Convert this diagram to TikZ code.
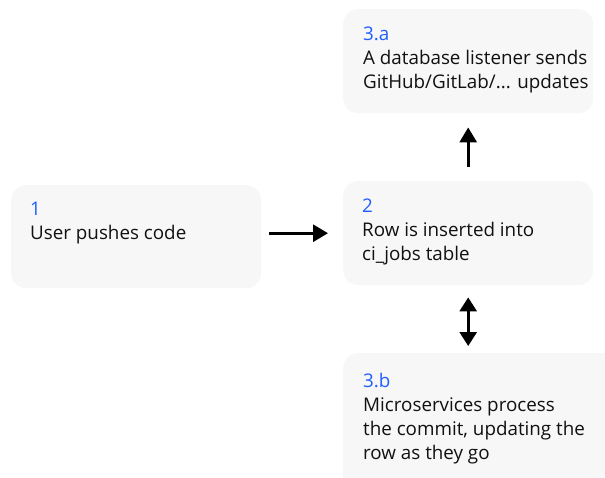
\documentclass[tikz,border=0pt]{standalone}
\usepackage{fontspec}
\setmainfont{Open Sans}
\usepackage{tikz}
\usetikzlibrary{calc}
\usetikzlibrary{arrows.meta}
\definecolor{boxgray}{HTML}{F7F7F7}
\definecolor{numblue}{HTML}{1F5EFF}
\definecolor{txtblack}{HTML}{111111}

\begin{document}
\begin{tikzpicture}[x=1pt, y=-1pt,
  card/.style={fill=boxgray, rounded corners=15pt, inner sep=0pt, anchor=north west},
  cardtext/.style={anchor=north west, inner sep=0pt, align=left, text=txtblack, font=\fontsize{18.8}{24}\selectfont},
  flow/.style={line width=2.8pt, -{Triangle[length=15pt,width=17pt]}},
  flowboth/.style={line width=2.8pt, {Triangle[length=14pt,width=17pt]}-{Triangle[length=14pt,width=17pt]}}]
  \clip (0,0) rectangle (605,477);
  \node[card, minimum width=250pt, minimum height=103pt, name=push] at (11,185) {};
  \node[card, minimum width=250pt, minimum height=104pt, name=work] at (343,181) {};
  \node[card, minimum width=250pt, minimum height=104pt, name=listener] at (343,9) {};
  \node[card, minimum width=280pt, minimum height=140pt, name=micro] at (343,353) {};
  \node[cardtext, name=pushtext] at ($(push.north west)+(19,17)$) {\textcolor{numblue}{1}\\User pushes code};
  \node[cardtext, name=worktext] at ($(work.north west)+(19,18)$) {\textcolor{numblue}{2}\\Row is inserted into\\ci\_jobs table};
  \node[cardtext, name=listenertext] at ($(listener.north west)+(20,18)$) {\textcolor{numblue}{3.a}\\A database listener sends\\GitHub/GitLab/... updates};
  \node[cardtext, name=microtext] at ($(micro.north west)+(20,20)$) {\textcolor{numblue}{3.b}\\Microservices process\\the commit, updating the\\row as they go};
  \draw[flow] ($(push.east |- work.west)+(8,0)$) -- ($(work.west)+(-15,0)$);
  \draw[flow] ($(work.north)+(0,-14)$) -- ($(listener.south)+(0,14)$);
  \draw[flowboth] ($(work.south)+(0,12)$) -- ($(work.south |- micro.north)+(0,-7)$);
\end{tikzpicture}
\end{document}
